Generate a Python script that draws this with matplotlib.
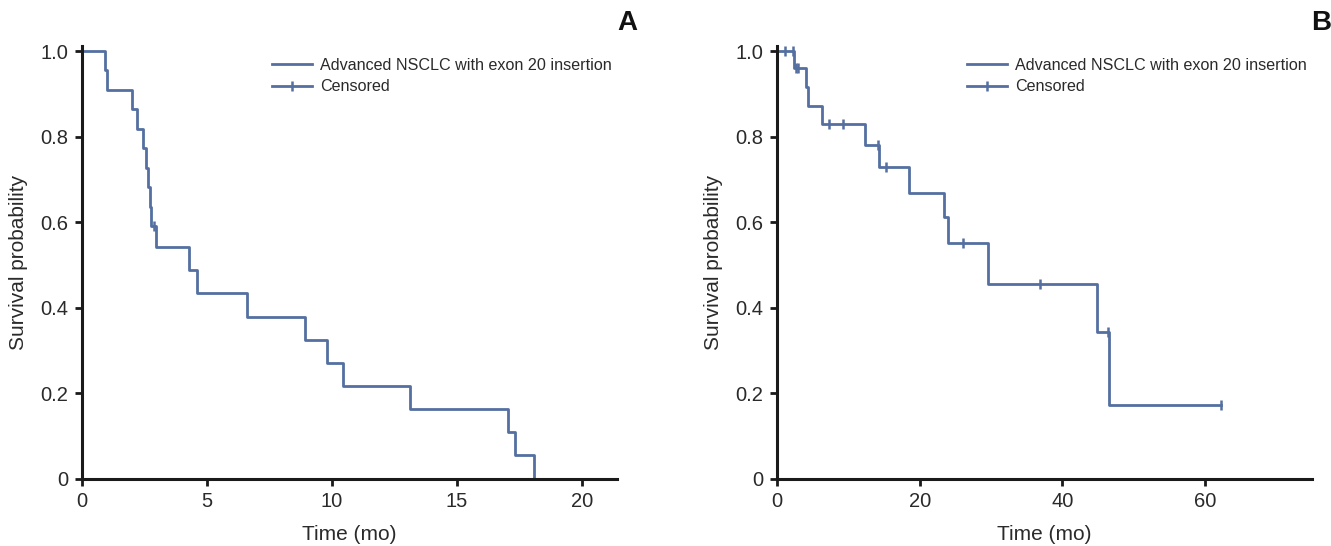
import matplotlib
matplotlib.use("Agg")
import matplotlib.pyplot as plt
from matplotlib.lines import Line2D

plt.rcParams['font.family'] = ['Liberation Sans', 'DejaVu Sans']

# Panel A: Kaplan-Meier steps (months, survival)
times_a = [0, 0.92, 0.98, 2.0, 2.2, 2.45, 2.57, 2.64, 2.72, 2.76, 2.95,
           4.28, 4.61, 6.59, 8.9, 9.81, 10.45, 13.13, 17.05, 17.33, 18.09]
surv_a = [1.0, 0.955, 0.909, 0.864, 0.818, 0.773, 0.727, 0.682, 0.636, 0.591, 0.542,
          0.488, 0.433, 0.379, 0.325, 0.271, 0.217, 0.163, 0.108, 0.054, 0.0]
cens_t_a = [2.88]
cens_s_a = [0.591]

# Panel B
times_b = [0, 2.4, 4.0, 4.3, 6.25, 12.4, 14.3, 18.5, 23.4, 23.96, 29.55, 44.8, 46.5, 62.3]
surv_b = [1.0, 0.960, 0.917, 0.872, 0.829, 0.780, 0.729, 0.669, 0.611, 0.550, 0.456,
          0.342, 0.171, 0.171]
cens_t_b = [1.1, 2.3, 2.66, 2.98, 7.27, 9.28, 14.1, 15.24, 26.1, 36.9, 46.4, 62.3]
cens_s_b = [1.0, 1.0, 0.960, 0.960, 0.829, 0.829, 0.780, 0.729, 0.550, 0.456, 0.342, 0.171]

xticks_a = [0, 5, 10, 15, 20]
xticks_b = [0, 20, 40, 60]
yticks = [0, 0.2, 0.4, 0.6, 0.8, 1.0]
ytick_labels = ["0", "0.2", "0.4", "0.6", "0.8", "1.0"]

line_color = "#546fa0"
W, H = 1331, 546

fig = plt.figure(figsize=(W / 100, H / 100), dpi=100)
ax_a = fig.add_axes([82 / W, 67.5 / H, 535 / W, 432.5 / H])
ax_b = fig.add_axes([777 / W, 67.5 / H, 535 / W, 432.5 / H])


def draw_panel(ax, t, s, ct, cs, xmax, xticks):
    ax.step(t, s, where="post", color=line_color, lw=2.0)
    ax.plot(ct, cs, ls="none", marker="|", ms=7, mew=1.8, color=line_color)
    ax.set_xlim(0, xmax)
    ax.set_ylim(0, 1.012)
    ax.set_xticks(xticks)
    ax.set_yticks(yticks)
    ax.set_yticklabels(ytick_labels)
    for side in ["top", "right"]:
        ax.spines[side].set_visible(False)
    for side in ["left", "bottom"]:
        ax.spines[side].set_linewidth(2.2)
        ax.spines[side].set_color("#1a1a1a")
    ax.tick_params(length=5, width=2, color="#1a1a1a", labelsize=14.5,
                   labelcolor="#2a2a2a", pad=5)
    ax.set_xlabel("Time (mo)", fontsize=15, color="#2a2a2a", labelpad=10)
    ax.set_ylabel("Survival probability", fontsize=15, color="#2a2a2a", labelpad=9)
    handles = [Line2D([], [], color=line_color, lw=2.0),
               Line2D([], [], color=line_color, lw=2.0, marker="|", ms=7, mew=1.8)]
    ax.legend(handles, ["Advanced NSCLC with exon 20 insertion", "Censored"],
              loc="center left", bbox_to_anchor=(0.355, 0.930), frameon=False,
              fontsize=11.6, handlelength=2.5, handletextpad=0.5,
              labelspacing=0.4, borderpad=0, borderaxespad=0,
              labelcolor="#2a2a2a")


draw_panel(ax_a, times_a, surv_a, cens_t_a, cens_s_a, 21.4, xticks_a)
draw_panel(ax_b, times_b, surv_b, cens_t_b, cens_s_b, 75, xticks_b)

fig.text(627 / W, 1 - 23 / H, "A", fontsize=20, fontweight="bold",
         ha="center", va="center", color="#111111")
fig.text(1321 / W, 1 - 23 / H, "B", fontsize=20, fontweight="bold",
         ha="center", va="center", color="#111111")

fig.savefig("out.png", dpi=100)
